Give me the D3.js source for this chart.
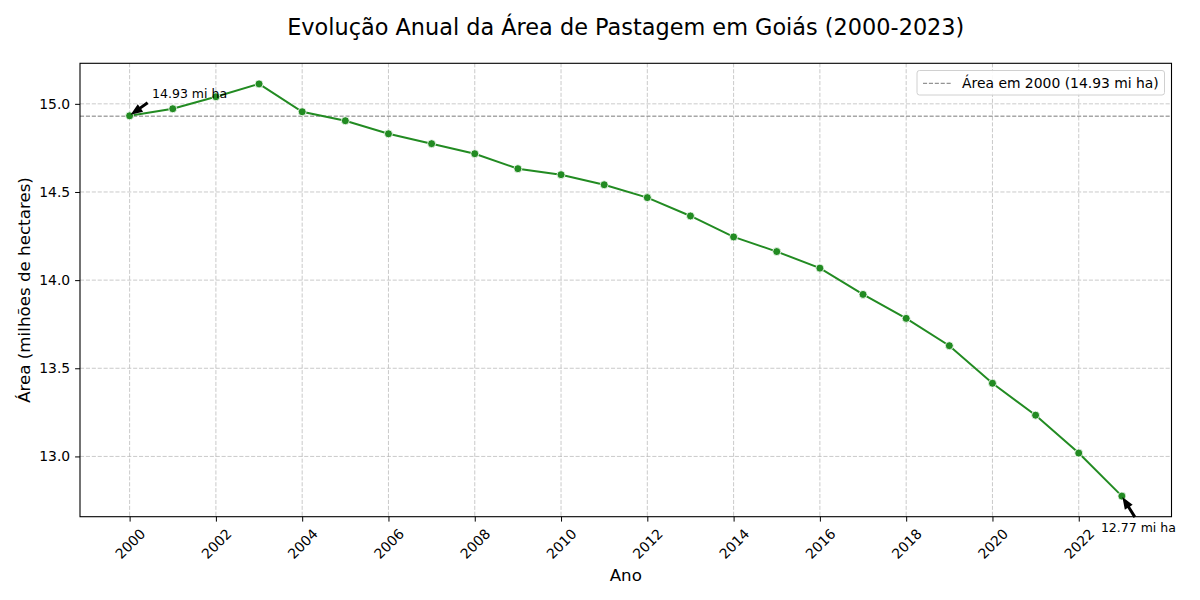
<!DOCTYPE html>
<html>
<head>
<meta charset="utf-8">
<script src="https://cdn.jsdelivr.net/npm/d3@7"></script>
<style>
  body { margin: 0; background: #fff; }
  svg text { font-family: "DejaVu Sans", sans-serif; fill: #000; }
</style>
</head>
<body>
<div id="chart"></div>
<script>
// data
const years = [2000, 2001, 2002, 2003, 2004, 2005, 2006, 2007, 2008, 2009, 2010, 2011,
               2012, 2013, 2014, 2015, 2016, 2017, 2018, 2019, 2020, 2021, 2022, 2023];
const area = [14.932, 14.972, 15.040, 15.113, 14.955, 14.904, 14.830, 14.774, 14.717, 14.632, 14.598, 14.541,
              14.468, 14.364, 14.245, 14.162, 14.068, 13.919, 13.783, 13.628, 13.415, 13.234, 13.019, 12.775];
const xTicks = [2000, 2002, 2004, 2006, 2008, 2010, 2012, 2014, 2016, 2018, 2020, 2022];
const yTicks = [13.0, 13.5, 14.0, 14.5, 15.0];
const refValue = 14.93;
const titleText = "Evolução Anual da Área de Pastagem em Goiás (2000-2023)";
const legendText = "Área em 2000 (14.93 mi ha)";

const width = 1200;
const height = 600;
const margin = {top: 63.3, right: 28.5, bottom: 83.3, left: 80};

const svg = d3.select("#chart").append("svg")
    .attr("width", width)
    .attr("height", height);

// matplotlib style 5% margins on both axes
const xPad = (d3.max(years) - d3.min(years)) * 0.05;
const yPad = (d3.max(area) - d3.min(area)) * 0.05;

const x = d3.scaleLinear()
    .domain([d3.min(years) - xPad, d3.max(years) + xPad])
    .range([margin.left, width - margin.right]);
const y = d3.scaleLinear()
    .domain([d3.min(area) - yPad, d3.max(area) + yPad])
    .range([height - margin.bottom, margin.top]);

const plotBottom = height - margin.bottom;
const plotRight = width - margin.right;

// grid
svg.append("g").selectAll("line")
    .data(xTicks)
    .join("line")
    .attr("x1", d => x(d)).attr("x2", d => x(d))
    .attr("y1", margin.top).attr("y2", plotBottom)
    .attr("stroke", "#b0b0b0").attr("stroke-opacity", 0.75)
    .attr("stroke-width", 0.9).attr("stroke-dasharray", "4.1,1.8");
svg.append("g").selectAll("line")
    .data(yTicks)
    .join("line")
    .attr("x1", margin.left).attr("x2", plotRight)
    .attr("y1", d => y(d)).attr("y2", d => y(d))
    .attr("stroke", "#b0b0b0").attr("stroke-opacity", 0.75)
    .attr("stroke-width", 0.9).attr("stroke-dasharray", "4.1,1.8");

// reference line for 2000
svg.append("line")
    .attr("x1", margin.left).attr("x2", plotRight)
    .attr("y1", y(refValue)).attr("y2", y(refValue))
    .attr("stroke", "#7a7a7a").attr("stroke-width", 1)
    .attr("stroke-dasharray", "4.1,1.8");

// series line
const line = d3.line()
    .x((d, i) => x(years[i]))
    .y(d => y(d));

svg.append("path")
    .datum(area)
    .attr("d", line)
    .attr("fill", "none")
    .attr("stroke", "#228B22")
    .attr("stroke-width", 2);

svg.append("g").selectAll("circle")
    .data(area)
    .join("circle")
    .attr("cx", (d, i) => x(years[i]))
    .attr("cy", d => y(d))
    .attr("r", 4)
    .attr("fill", "#228B22")
    .attr("stroke", "#fff")
    .attr("stroke-width", 0.8);

// axes
const xAxis = svg.append("g")
    .attr("transform", `translate(0,${plotBottom})`)
    .call(d3.axisBottom(x).tickValues(xTicks).tickFormat(d3.format("d")).tickSizeOuter(0).tickSize(4.9).tickPadding(3.5));
xAxis.select(".domain").remove();
xAxis.selectAll(".tick line").attr("stroke", "#000").attr("stroke-width", 1);
xAxis.selectAll(".tick text")
    .attr("font-size", 13.9)
    .attr("text-anchor", "middle")
    .attr("dy", null)
    .attr("y", null)
    .attr("dominant-baseline", "central")
    .attr("transform", "translate(0,27) rotate(-45)");

const yAxis = svg.append("g")
    .attr("transform", `translate(${margin.left},0)`)
    .call(d3.axisLeft(y).tickValues(yTicks).tickFormat(d3.format(".1f")).tickSizeOuter(0).tickSize(4.9).tickPadding(4.9));
yAxis.select(".domain").remove();
yAxis.selectAll(".tick line").attr("stroke", "#000").attr("stroke-width", 1);
yAxis.selectAll(".tick text").attr("font-size", 13.9);

// frame
svg.append("rect")
    .attr("x", margin.left).attr("y", margin.top)
    .attr("width", plotRight - margin.left)
    .attr("height", plotBottom - margin.top)
    .attr("fill", "none").attr("stroke", "#000").attr("stroke-width", 1.1);

// annotations with arrows
function arrow(x0, y0, x1, y1) {
    // tail (x0,y0) -> tip (x1,y1)
    const dx = x1 - x0, dy = y1 - y0;
    const len = Math.hypot(dx, dy);
    const ux = dx / len, uy = dy / len;
    const nx = -uy, ny = ux;
    const headLen = 12, headW = 4.6, shaftW = 1.5;
    const bx = x1 - ux * headLen, by = y1 - uy * headLen;
    const pts = [
        [x0 + nx * shaftW, y0 + ny * shaftW],
        [bx + nx * shaftW, by + ny * shaftW],
        [bx + nx * headW, by + ny * headW],
        [x1, y1],
        [bx - nx * headW, by - ny * headW],
        [bx - nx * shaftW, by - ny * shaftW],
        [x0 - nx * shaftW, y0 - ny * shaftW]
    ];
    return "M" + pts.map(p => p.join(",")).join("L") + "Z";
}

const first = {px: x(years[0]), py: y(area[0])};
const last = {px: x(years[years.length - 1]), py: y(area[area.length - 1])};

svg.append("path")
    .attr("d", arrow(first.px + 18, first.py - 13, first.px + 1, first.py - 1))
    .attr("fill", "#000");
svg.append("text")
    .attr("x", first.px + 22.5)
    .attr("y", first.py - 17.5)
    .attr("font-size", 12.5)
    .text(refValue.toFixed(2) + " mi ha");

svg.append("path")
    .attr("d", arrow(last.px + 13, last.py + 21, last.px + 0.5, last.py + 1))
    .attr("fill", "#000");
svg.append("text")
    .attr("x", last.px - 21)
    .attr("y", last.py + 36)
    .attr("font-size", 12.5)
    .text((Math.floor(area[area.length - 1] * 100) / 100).toFixed(2) + " mi ha");

// legend
const legend = svg.append("g");
legend.append("rect")
    .attr("x", plotRight - 254.5).attr("y", margin.top + 7.2)
    .attr("width", 247.5).attr("height", 24.5)
    .attr("rx", 2.5)
    .attr("fill", "#fff").attr("fill-opacity", 0.9)
    .attr("stroke", "#d0d0d0").attr("stroke-width", 1);
legend.append("line")
    .attr("x1", plotRight - 248.5).attr("x2", plotRight - 220.5)
    .attr("y1", margin.top + 20).attr("y2", margin.top + 20)
    .attr("stroke", "#7a7a7a").attr("stroke-width", 1)
    .attr("stroke-dasharray", "4.1,1.8");
legend.append("text")
    .attr("x", plotRight - 209.5)
    .attr("y", margin.top + 24.5)
    .attr("font-size", 13.9)
    .text(legendText);

// titles
svg.append("text")
    .attr("x", (margin.left + plotRight) / 2)
    .attr("y", 35)
    .attr("text-anchor", "middle")
    .attr("font-size", 22.4)
    .text(titleText);

svg.append("text")
    .attr("x", (margin.left + plotRight) / 2)
    .attr("y", 581)
    .attr("text-anchor", "middle")
    .attr("font-size", 16.7)
    .text("Ano");

svg.append("text")
    .attr("transform", `translate(30,${(margin.top + plotBottom) / 2}) rotate(-90)`)
    .attr("text-anchor", "middle")
    .attr("font-size", 16.7)
    .text("Área (milhões de hectares)");
</script>
</body>
</html>
